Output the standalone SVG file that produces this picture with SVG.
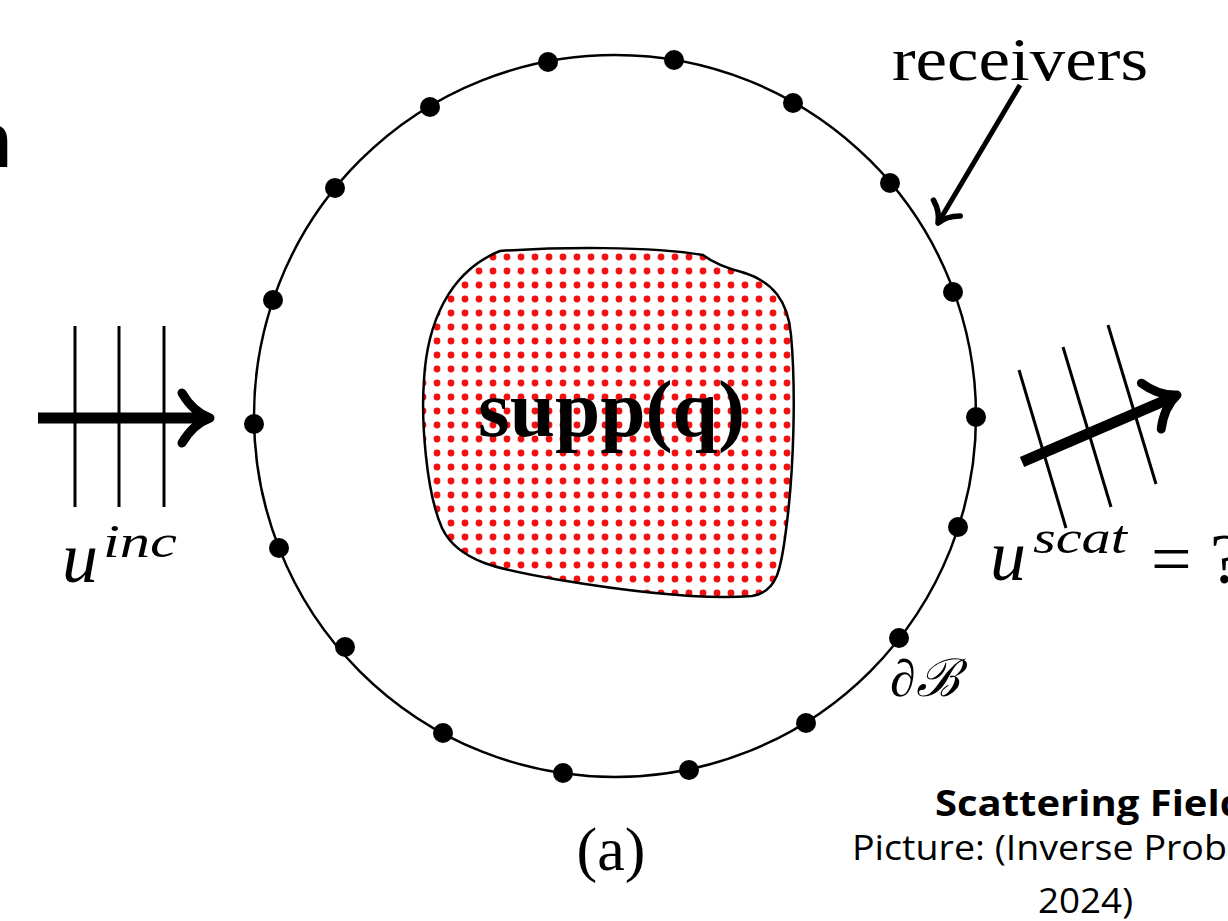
<svg xmlns="http://www.w3.org/2000/svg" xmlns:xlink="http://www.w3.org/1999/xlink" width="1228" height="921" viewBox="0 0 1228 921">
<style>
.ser{font-family:"Liberation Serif","DejaVu Serif",serif;fill:#000}
.it{font-style:italic}
.san{font-family:"Open Sans","Liberation Sans",Arial,sans-serif;fill:#000}
.thin{stroke:#000;stroke-width:3;fill:none}
.shaft{stroke:#000;fill:none}
.head{stroke:#000;fill:none;stroke-linecap:round;stroke-linejoin:round;stroke-width:9}
.dot{fill:#000}
</style>
<defs>
<pattern id="reddots" patternUnits="userSpaceOnUse" x="472" y="250" width="14" height="14">
<circle cx="7" cy="7" r="3.4" fill="#f21010"/>
</pattern>
<path id="ah" d="M -28,-25 C -21,-13 -11,-4 0,0 C -11,4 -21,13 -28,25"/>
</defs>
<rect width="1228" height="921" fill="#fff"/>

<g id="title-fragment">
<text font-family="Liberation Sans, Arial, sans-serif" x="-35" y="167" font-size="77" font-weight="bold">n</text>
</g>

<g id="boundary">
<circle cx="615" cy="416" r="361" fill="none" stroke="#000" stroke-width="2.5"/>
</g>

<g id="receivers-dots">
<circle class="dot" cx="548" cy="62" r="10"/>
<circle class="dot" cx="674" cy="60" r="10"/>
<circle class="dot" cx="430" cy="107" r="10"/>
<circle class="dot" cx="793" cy="103" r="10"/>
<circle class="dot" cx="335" cy="188" r="10"/>
<circle class="dot" cx="890" cy="183" r="10"/>
<circle class="dot" cx="273" cy="300" r="10"/>
<circle class="dot" cx="953" cy="292" r="10"/>
<circle class="dot" cx="254" cy="424" r="10"/>
<circle class="dot" cx="976" cy="417" r="10"/>
<circle class="dot" cx="279" cy="548" r="10"/>
<circle class="dot" cx="958" cy="527" r="10"/>
<circle class="dot" cx="345" cy="647" r="10"/>
<circle class="dot" cx="899" cy="638" r="10"/>
<circle class="dot" cx="443" cy="733" r="10"/>
<circle class="dot" cx="806" cy="723" r="10"/>
<circle class="dot" cx="563" cy="773" r="10"/>
<circle class="dot" cx="689" cy="770" r="10"/>
</g>

<g id="support">
<path d="M 500,251 C 560,247 650,246 703,255 C 712,262 725,268 745,273 C 772,282 788,300 791,335 C 796,390 794,470 786,530 C 781,570 777,592 752,596 C 700,600 620,590 560,580 C 500,570 458,562 442,528 C 426,492 421,420 424,380 C 427,325 448,272 500,251 Z" fill="url(#reddots)" stroke="#000" stroke-width="2.5"/>
<text class="ser" x="478" y="436" font-size="80" font-weight="bold" textLength="267" lengthAdjust="spacingAndGlyphs">supp(q)</text>
</g>

<g id="incident-wave">
<line class="thin" x1="75" y1="326" x2="75" y2="507"/>
<line class="thin" x1="119" y1="326" x2="119" y2="507"/>
<line class="thin" x1="164" y1="326" x2="164" y2="507"/>
<text class="ser it" x="62" y="582" font-size="72">u</text>
<text class="ser it" x="103" y="557" font-size="46" textLength="74" lengthAdjust="spacingAndGlyphs">inc</text>
</g>

<g id="scattered-wave">
<line class="thin" x1="1019" y1="370" x2="1066" y2="528"/>
<line class="thin" x1="1063" y1="347" x2="1111" y2="507"/>
<line class="thin" x1="1108" y1="325" x2="1156" y2="484"/>
<text class="ser it" x="990" y="580" font-size="72">u</text>
<text class="ser it" x="1033" y="553" font-size="46" textLength="94" lengthAdjust="spacingAndGlyphs">scat</text>
<text class="ser" x="1151" y="583" font-size="72">=<tspan x="1210">?</tspan></text>
</g>

<g id="receivers-label">
<text class="ser" x="892" y="80" font-size="62" textLength="256" lengthAdjust="spacingAndGlyphs">receivers</text>
</g>

<g id="boundary-label">
<text class="ser it" x="890" y="696" font-size="52">∂ℬ</text>
</g>

<g id="caption">
<text class="ser" x="611" y="870" font-size="62" text-anchor="middle">(a)</text>
</g>

<g id="source-note">
<text class="san" x="935" y="816" font-size="35" font-weight="bold" textLength="310" lengthAdjust="spacingAndGlyphs">Scattering Field</text>
<text class="san" x="852" y="860" font-size="35" textLength="375" lengthAdjust="spacingAndGlyphs">Picture: (Inverse Prob</text>
<text class="san" x="1038" y="913" font-size="35" textLength="95" lengthAdjust="spacingAndGlyphs">2024)</text>
</g>

<g id="connectors">
<line class="shaft" x1="38" y1="418" x2="204" y2="418" stroke-width="11"/>
<use xlink:href="#ah" class="head" transform="translate(210,418)"/>
<line class="shaft" x1="1022" y1="462" x2="1171" y2="398" stroke-width="11"/>
<use xlink:href="#ah" class="head" transform="translate(1177,395) rotate(-23.4)"/>
<line class="shaft" x1="1020" y1="85" x2="941" y2="218" stroke-width="5"/>
<use xlink:href="#ah" class="head" transform="translate(938,223) rotate(120.6) scale(0.62)"/>
</g>
</svg>
